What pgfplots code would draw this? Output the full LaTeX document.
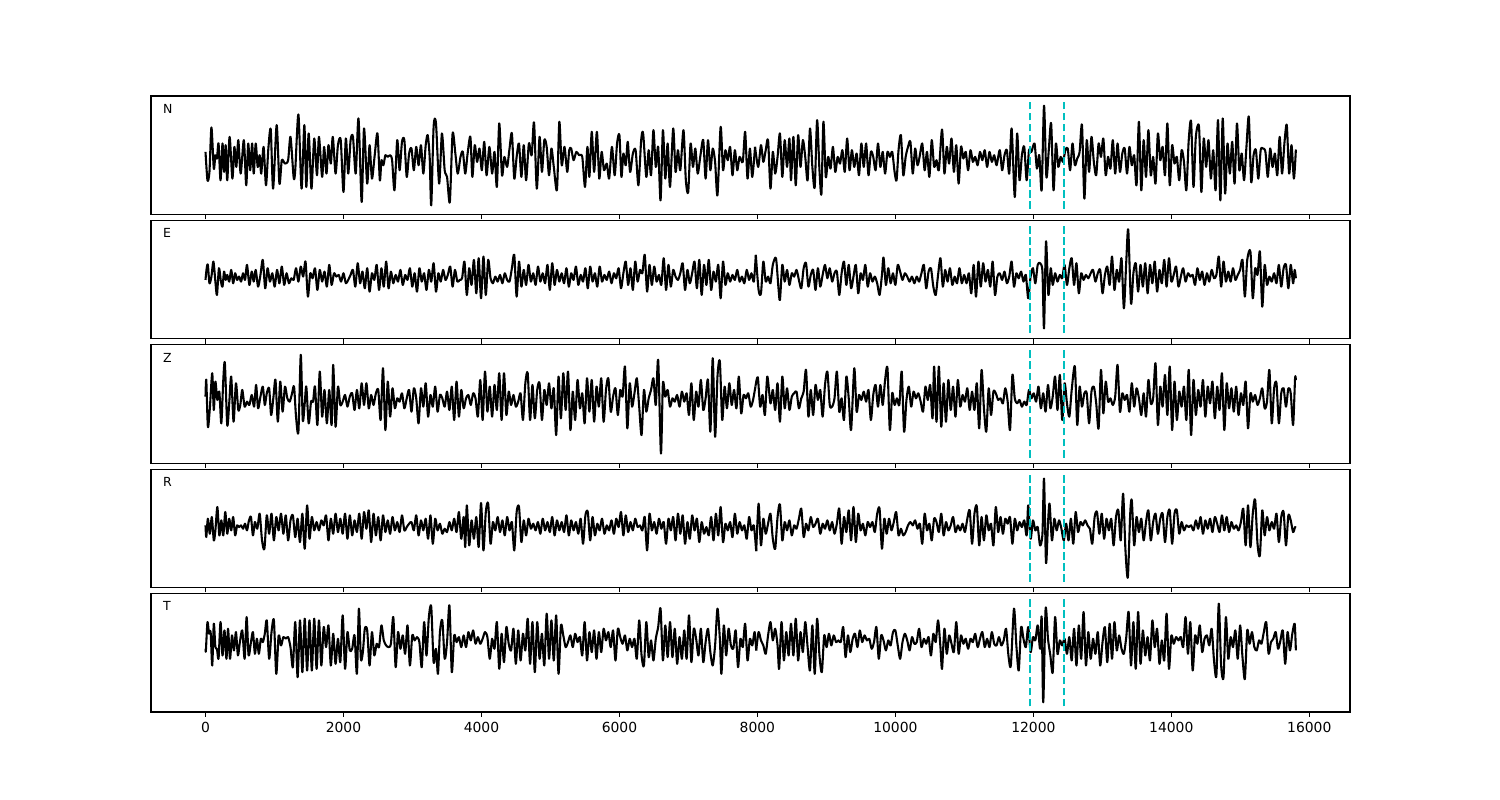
\documentclass[border=0pt]{standalone}
\usepackage{fontspec}
\setmainfont{DejaVu Sans}
\usepackage{pgfplots}
\pgfplotsset{compat=1.18}
\definecolor{cyanc}{rgb}{0,0.75,0.75}
\pgfplotsset{
  panel/.style={
    anchor=south west, scale only axis, width=863.28pt, height=85.25pt,
    xmin=-790, xmax=16590, ymin=-177, ymax=177,
    ytick=\empty, xtick={0,2000,4000,6000,8000,10000,12000,14000,16000},
    xtick pos=lower, tick align=outside,
    major tick length=3.5pt, every tick/.style={black, line width=0.8pt},
    axis line style={line width=0.8pt},
    xticklabel style={font=\fontsize{10}{12}\selectfont},
    /pgf/number format/assume math mode=true,
    /pgf/number format/set thousands separator={},
    scaled x ticks=false, clip=true,
  },
  sig/.style={black, line width=1.5pt, line join=round, no markers, smooth, tension=0.45},
  cut/.style={cyanc, line width=1.5pt, dash pattern=on 5.55pt off 2.4pt, no markers},
}
\tikzset{lab/.style={anchor=base west, inner sep=0pt, font=\fontsize{9}{10.8}\selectfont}}
\begin{document}
\begin{tikzpicture}
\path[use as bounding box] (0pt,0pt) rectangle (1080pt,576pt);
% ---------------- N
\begin{axis}[panel, at={(108.72pt,421.63pt)}, xticklabels={}]
\addplot[sig] table[row sep=\\, header=false, x expr=\thisrowno{0}*5.7307-945.6, y expr=195-\thisrowno{1}]{
165 185\\170 270\\175 245\\180 112\\186 235\\190 195\\194 205\\198 160\\203 270\\208 160\\212 245\\216 165\\220 270\\226 140\\233 265\\238 170\\243 230\\248 150\\254 250\\262 150\\268 285\\273 160\\278 240\\283 160\\287 250\\292 160\\297 230\\302 195\\306 250\\312 170\\318 285\\324 175\\330 118\\336 295\\345 105\\352 280\\358 210\\366 220\\374 210\\380 140\\388 262\\392 240\\400 73\\408 295\\415 105\\420 290\\426 130\\433 295\\440 145\\447 255\\452 140\\460 260\\465 170\\471 250\\476 165\\482 220\\487 140\\494 250\\500 165\\507 150\\514 305\\520 145\\526 250\\532 150\\538 140\\545 250\\552 85\\560 335\\566 115\\574 280\\580 165\\586 265\\593 195\\600 130\\606 270\\610 210\\615 225\\620 195\\626 200\\632 195\\637 210\\643 300\\650 150\\656 240\\662 155\\668 150\\674 260\\680 190\\686 175\\692 240\\698 170\\704 225\\710 165\\716 250\\722 165\\727 135\\732 200\\736 345\\742 110\\748 100\\756 280\\763 130\\770 240\\776 260\\783 335\\790 130\\797 190\\803 250\\810 200\\816 185\\822 250\\828 190\\835 140\\840 260\\846 165\\852 215\\858 175\\864 240\\870 155\\876 255\\883 170\\890 250\\896 185\\902 290\\908 100\\915 255\\921 200\\928 230\\934 175\\940 130\\946 265\\952 200\\958 160\\964 260\\970 165\\976 270\\983 160\\990 195\\996 97\\1003 295\\1010 140\\1016 245\\1022 150\\1028 170\\1034 255\\1040 175\\1046 230\\1054 298\\1060 95\\1066 225\\1073 170\\1080 245\\1085 180\\1090 175\\1096 210\\1103 185\\1110 195\\1118 200\\1125 290\\1131 170\\1136 260\\1142 125\\1148 245\\1155 125\\1161 265\\1167 185\\1173 240\\1180 220\\1186 265\\1193 170\\1200 255\\1206 160\\1212 135\\1217 260\\1222 190\\1228 225\\1233 155\\1239 245\\1246 190\\1253 180\\1260 285\\1267 150\\1272 130\\1280 260\\1286 180\\1292 255\\1298 120\\1304 230\\1310 170\\1316 330\\1322 120\\1328 265\\1334 160\\1340 290\\1348 115\\1354 245\\1360 180\\1366 240\\1374 120\\1380 270\\1386 305\\1392 160\\1398 230\\1404 175\\1410 250\\1417 195\\1424 150\\1430 265\\1436 150\\1442 240\\1448 175\\1454 215\\1460 315\\1468 110\\1474 240\\1480 180\\1486 210\\1492 170\\1498 255\\1504 180\\1510 240\\1516 200\\1524 215\\1530 125\\1536 265\\1542 175\\1548 260\\1555 170\\
};
\addplot[sig] table[row sep=\\, header=false, x expr=\thisrowno{0}*5.7307+7753.6, y expr=195-\thisrowno{1}]{
37 170\\45 230\\52 165\\58 215\\64 180\\70 150\\76 295\\82 185\\88 250\\94 200\\100 130\\106 260\\112 150\\118 230\\124 145\\128 270\\134 140\\140 285\\146 135\\152 230\\158 150\\164 200\\170 270\\176 115\\182 230\\188 290\\194 90\\200 240\\205 310\\210 95\\216 260\\222 200\\228 235\\234 170\\240 245\\246 200\\252 220\\258 180\\264 245\\270 145\\276 240\\282 180\\288 230\\294 190\\300 255\\306 160\\312 230\\318 160\\324 255\\330 185\\336 200\\342 240\\348 160\\354 230\\360 185\\366 250\\372 185\\378 200\\384 185\\390 245\\395 270\\400 180\\406 135\\412 255\\418 200\\424 170\\430 155\\436 250\\442 175\\448 225\\454 195\\460 160\\466 240\\472 185\\478 260\\484 150\\490 230\\496 210\\502 240\\510 118\\516 250\\522 170\\528 220\\534 145\\540 245\\546 165\\552 280\\558 170\\564 205\\570 185\\576 240\\582 180\\588 215\\594 200\\600 225\\606 185\\612 210\\618 180\\624 230\\630 185\\636 215\\642 195\\648 225\\656 180\\662 240\\668 195\\674 180\\680 250\\686 115\\694 320\\700 130\\706 270\\712 195\\718 170\\724 270\\730 180\\736 185\\744 160\\750 235\\756 195\\762 300\\768 47\\774 260\\780 180\\786 100\\792 300\\798 160\\804 230\\810 200\\816 215\\822 180\\828 175\\834 240\\840 160\\846 225\\852 205\\858 185\\864 105\\870 325\\876 150\\882 245\\888 140\\894 215\\900 255\\906 160\\912 200\\918 145\\924 255\\930 200\\936 235\\942 150\\948 250\\954 160\\960 245\\966 190\\972 175\\978 250\\984 170\\990 225\\996 195\\1002 285\\1008 95\\1014 300\\1020 150\\1026 260\\1032 120\\1038 255\\1044 200\\1050 280\\1056 130\\1062 210\\1068 170\\1074 255\\1080 100\\1086 285\\1092 165\\1098 220\\1104 200\\1110 270\\1116 180\\1122 215\\1128 300\\1134 150\\1140 95\\1146 290\\1152 140\\1160 110\\1166 305\\1172 145\\1178 230\\1184 150\\1190 265\\1196 180\\1202 300\\1208 90\\1214 330\\1220 85\\1226 310\\1232 160\\1238 250\\1244 155\\1250 280\\1256 100\\1262 240\\1268 190\\1274 270\\1280 170\\1286 80\\1292 275\\1298 195\\1304 180\\1310 265\\1316 180\\1322 175\\1328 185\\1334 260\\1340 175\\1346 230\\1352 190\\1358 255\\1364 140\\1370 250\\1376 160\\1382 105\\1388 250\\1394 165\\1400 265\\1405 178\\
};
\addplot[cut] coordinates {(11950,-160) (11950,160)};
\addplot[cut] coordinates {(12450,-160) (12450,160)};
\node[lab] at (rel axis cs:0.0098,0.854) {N};
\end{axis}
% ---------------- E
\begin{axis}[panel, at={(108.72pt,332.06pt)}, xticklabels={}]
\addplot[sig] table[row sep=\\, header=false, x expr=\thisrowno{0}*5.7307-945.6, y expr=194-\thisrowno{1}]{
165 195\\168 160\\171 150\\175 205\\180 185\\185 140\\190 200\\194 240\\199 160\\204 200\\208 215\\212 170\\216 195\\220 180\\225 200\\230 165\\235 205\\240 175\\245 195\\250 185\\255 200\\260 175\\265 195\\270 150\\276 210\\282 170\\287 200\\292 165\\298 215\\304 180\\310 135\\316 220\\322 160\\328 200\\334 175\\340 215\\346 165\\352 205\\358 155\\364 210\\370 175\\376 205\\382 190\\388 195\\394 160\\400 200\\406 155\\412 185\\418 140\\424 245\\430 175\\436 190\\442 160\\448 225\\454 165\\460 200\\466 170\\472 215\\478 150\\484 210\\490 175\\496 185\\502 180\\508 200\\514 175\\520 205\\526 195\\532 180\\538 165\\544 215\\550 145\\556 205\\562 170\\568 220\\574 160\\580 230\\586 175\\592 195\\598 150\\604 225\\610 160\\616 215\\622 140\\628 220\\634 170\\640 205\\646 180\\652 200\\658 165\\664 210\\670 180\\676 195\\682 160\\688 215\\694 175\\700 230\\706 160\\712 200\\718 175\\724 225\\730 165\\736 200\\742 145\\748 230\\754 175\\760 200\\766 165\\772 195\\778 180\\784 155\\790 215\\796 165\\802 200\\808 195\\814 190\\820 140\\826 240\\832 160\\838 210\\844 135\\850 235\\856 130\\862 250\\868 125\\874 240\\880 135\\886 190\\892 205\\898 185\\904 200\\910 180\\916 205\\922 175\\928 195\\934 200\\940 160\\946 120\\952 245\\958 140\\964 215\\970 165\\976 210\\982 150\\988 200\\994 175\\1000 210\\1006 155\\1012 200\\1018 175\\1024 205\\1030 150\\1036 225\\1042 145\\1048 210\\1054 165\\1060 200\\1066 175\\1072 205\\1078 160\\1084 215\\1090 175\\1096 195\\1102 155\\1108 210\\1114 180\\1120 200\\1126 160\\1132 220\\1138 155\\1144 200\\1150 175\\1156 215\\1162 155\\1168 200\\1174 180\\1180 195\\1186 170\\1192 205\\1198 175\\1204 190\\1210 160\\1216 220\\1222 175\\1228 140\\1234 210\\1240 160\\1246 225\\1252 140\\1258 200\\1264 165\\1270 175\\1276 120\\1282 230\\1288 150\\1294 210\\1300 155\\1306 200\\1312 180\\1318 210\\1324 130\\1330 225\\1336 150\\1342 215\\1348 165\\1354 185\\1360 195\\1366 175\\1372 145\\1378 225\\1384 165\\1390 205\\1396 175\\1402 140\\1408 220\\1414 135\\1420 240\\1426 150\\1432 210\\1438 135\\1444 225\\1450 170\\1456 200\\1462 150\\1468 250\\1474 140\\1480 210\\1486 175\\1492 200\\1498 180\\1504 195\\1510 165\\1516 200\\1522 185\\1528 205\\1534 165\\1540 195\\1546 175\\1552 200\\1557 120\\
};
\addplot[sig] table[row sep=\\, header=false, x expr=\thisrowno{0}*5.7307+7753.6, y expr=194-\thisrowno{1}]{
39 120\\46 225\\52 235\\58 140\\64 200\\70 185\\76 205\\82 150\\90 130\\96 215\\100 255\\106 150\\112 200\\118 165\\124 210\\130 175\\136 185\\142 165\\148 195\\154 220\\160 160\\166 145\\172 215\\178 180\\184 165\\190 225\\196 160\\202 215\\208 180\\214 150\\220 190\\226 160\\232 200\\238 175\\244 170\\250 240\\256 175\\262 140\\268 210\\274 150\\280 220\\286 185\\292 150\\298 235\\304 175\\310 195\\316 150\\322 215\\328 175\\334 200\\340 185\\346 205\\352 240\\358 180\\362 128\\368 210\\374 160\\380 205\\386 175\\392 210\\398 150\\404 170\\410 195\\416 175\\422 185\\428 200\\434 185\\440 205\\446 185\\452 200\\458 175\\464 150\\470 220\\476 170\\482 160\\488 215\\494 240\\500 180\\506 130\\512 215\\518 165\\524 200\\530 160\\536 210\\542 185\\548 205\\554 160\\560 205\\566 180\\572 205\\578 175\\584 235\\590 150\\596 245\\602 140\\608 215\\614 145\\620 200\\626 165\\632 215\\638 140\\644 240\\650 185\\656 175\\662 195\\668 170\\674 205\\680 185\\686 140\\692 215\\698 175\\704 190\\710 170\\716 200\\722 180\\728 250\\734 185\\740 160\\746 205\\752 150\\758 145\\764 170\\768 340\\773 80\\779 240\\785 160\\790 210\\796 175\\802 200\\808 180\\814 190\\820 150\\826 210\\832 160\\838 130\\844 210\\850 145\\856 235\\862 175\\868 195\\874 180\\880 190\\886 175\\892 165\\898 200\\904 175\\910 165\\916 235\\922 180\\928 155\\934 210\\940 125\\946 225\\952 165\\958 200\\964 130\\970 280\\976 140\\981 45\\988 265\\994 175\\1000 145\\1006 230\\1012 150\\1018 215\\1024 145\\1030 235\\1036 150\\1042 205\\1048 140\\1054 230\\1060 165\\1066 205\\1072 135\\1078 215\\1084 130\\1090 200\\1096 180\\1102 155\\1108 215\\1114 185\\1120 160\\1126 200\\1132 175\\1138 185\\1144 180\\1150 210\\1156 160\\1162 195\\1168 170\\1174 210\\1180 175\\1186 200\\1192 165\\1198 190\\1204 180\\1210 125\\1216 215\\1222 140\\1228 200\\1234 170\\1240 200\\1246 160\\1252 195\\1258 180\\1264 165\\1270 135\\1276 245\\1282 135\\1290 110\\1296 250\\1302 160\\1308 180\\1314 110\\1320 275\\1326 150\\1332 210\\1338 185\\1344 200\\1350 175\\1356 205\\1362 150\\1368 215\\1374 160\\1380 150\\1386 220\\1392 150\\1398 205\\1402 165\\1405 190\\
};
\addplot[cut] coordinates {(11950,-160) (11950,160)};
\addplot[cut] coordinates {(12450,-160) (12450,160)};
\node[lab] at (rel axis cs:0.0098,0.854) {E};
\end{axis}
% ---------------- Z
\begin{axis}[panel, at={(108.72pt,242.5pt)}, xticklabels={}]
\addplot[sig] table[row sep=\\, header=false, x expr=\thisrowno{0}*5.7307-945.6, y expr=192-\thisrowno{1}]{
165 170\\167 120\\171 260\\176 205\\182 100\\186 210\\190 125\\195 180\\200 155\\205 250\\210 120\\214 70\\220 255\\225 190\\230 110\\236 245\\242 130\\248 210\\253 195\\258 150\\264 200\\270 185\\276 195\\282 165\\288 200\\293 135\\298 205\\304 170\\310 140\\315 195\\320 160\\326 145\\331 225\\337 170\\342 120\\348 245\\354 125\\360 215\\366 140\\372 175\\378 185\\384 160\\389 140\\394 230\\400 275\\406 45\\411 240\\416 190\\420 140\\426 250\\432 185\\437 185\\442 140\\448 255\\454 95\\460 230\\466 150\\472 250\\478 150\\484 255\\488 75\\494 260\\500 140\\506 195\\512 185\\518 165\\524 200\\530 170\\536 160\\542 210\\548 150\\554 205\\560 130\\566 195\\572 130\\578 205\\584 165\\590 195\\596 160\\602 150\\608 240\\614 85\\620 270\\626 125\\632 230\\638 145\\644 205\\650 175\\656 185\\662 160\\668 205\\674 175\\680 150\\686 215\\692 145\\698 175\\704 250\\710 145\\716 200\\722 130\\728 230\\734 165\\740 200\\746 140\\752 215\\758 165\\764 175\\770 200\\776 155\\782 210\\788 140\\794 240\\800 125\\806 230\\812 150\\818 205\\824 175\\830 165\\836 195\\842 160\\848 175\\854 230\\860 120\\866 240\\872 95\\878 215\\884 140\\890 230\\896 135\\902 210\\908 100\\914 240\\920 100\\926 225\\932 155\\938 195\\944 165\\950 200\\956 185\\962 160\\968 240\\974 130\\980 100\\986 240\\992 135\\998 235\\1004 150\\1010 130\\1016 240\\1022 150\\1028 195\\1034 130\\1040 205\\1046 145\\1052 285\\1058 110\\1064 235\\1070 100\\1076 210\\1082 95\\1088 270\\1094 155\\1100 240\\1106 120\\1112 205\\1118 160\\1124 250\\1130 115\\1136 215\\1142 120\\1148 245\\1154 140\\1160 200\\1166 115\\1172 245\\1178 150\\1184 115\\1190 215\\1196 170\\1202 145\\1208 225\\1214 150\\1220 170\\1226 80\\1232 265\\1238 130\\1244 200\\1250 160\\1256 115\\1262 200\\1268 285\\1274 150\\1280 215\\1286 175\\1292 150\\1298 115\\1304 195\\1310 60\\1317 340\\1322 130\\1328 170\\1334 150\\1340 200\\1346 175\\1352 185\\1358 165\\1364 200\\1370 155\\1376 185\\1382 160\\1388 225\\1394 130\\1400 240\\1406 155\\1412 200\\1418 120\\1424 210\\1430 175\\1436 120\\1442 275\\1448 55\\1454 290\\1460 110\\1466 65\\1472 240\\1478 140\\1484 205\\1490 130\\1496 195\\1502 150\\1508 205\\1514 110\\1520 220\\1526 165\\1532 175\\1538 160\\1544 200\\1550 180\\1556 140\\
};
\addplot[sig] table[row sep=\\, header=false, x expr=\thisrowno{0}*5.7307+7753.6, y expr=192-\thisrowno{1}]{
38 140\\44 112\\50 200\\56 165\\62 225\\68 110\\76 190\\82 150\\88 210\\94 130\\100 245\\106 110\\112 205\\118 145\\124 210\\130 170\\136 160\\142 155\\148 205\\154 175\\160 155\\166 90\\172 230\\178 150\\184 225\\190 135\\196 180\\202 150\\208 230\\214 135\\220 95\\226 195\\232 200\\238 175\\244 95\\250 215\\256 175\\262 240\\268 110\\274 175\\280 270\\288 85\\294 215\\300 165\\306 180\\312 155\\318 185\\324 150\\330 240\\336 165\\342 135\\348 200\\354 135\\360 195\\366 120\\372 85\\378 270\\384 160\\390 195\\396 175\\402 195\\408 95\\414 275\\420 180\\426 140\\432 200\\438 155\\444 175\\450 160\\456 185\\462 215\\468 140\\474 180\\480 135\\486 235\\490 80\\496 245\\502 80\\508 260\\514 130\\520 245\\526 120\\532 210\\538 140\\544 230\\550 120\\556 200\\562 165\\568 185\\574 145\\580 210\\586 155\\592 210\\598 130\\604 265\\610 90\\616 205\\622 275\\628 145\\634 225\\640 155\\646 160\\652 180\\658 175\\664 190\\670 145\\676 185\\682 270\\688 105\\694 175\\700 190\\706 180\\712 200\\718 185\\724 195\\730 150\\736 175\\742 160\\748 185\\754 140\\760 205\\766 160\\772 215\\778 135\\784 205\\790 170\\796 110\\802 210\\808 105\\814 240\\820 130\\826 190\\832 230\\838 150\\846 80\\852 255\\858 140\\864 200\\870 160\\876 160\\882 250\\888 155\\894 140\\900 190\\906 265\\912 90\\918 220\\924 125\\930 185\\936 175\\942 195\\948 170\\954 75\\960 215\\966 160\\972 180\\978 165\\984 215\\990 130\\996 200\\1002 145\\1008 175\\1014 225\\1020 160\\1026 230\\1032 120\\1038 190\\1044 175\\1050 70\\1056 255\\1062 140\\1068 200\\1074 105\\1080 225\\1086 80\\1092 270\\1098 125\\1104 240\\1110 155\\1116 200\\1122 140\\1128 240\\1134 90\\1140 285\\1146 120\\1152 225\\1158 150\\1164 200\\1170 120\\1176 230\\1182 140\\1188 190\\1194 125\\1200 235\\1206 140\\1212 210\\1218 100\\1224 270\\1230 130\\1236 205\\1242 145\\1248 215\\1254 140\\1260 225\\1266 160\\1272 195\\1278 125\\1284 265\\1290 160\\1296 185\\1302 165\\1308 195\\1314 175\\1320 145\\1326 205\\1332 185\\1338 90\\1344 250\\1350 145\\1356 130\\1362 250\\1368 160\\1374 145\\1380 200\\1386 145\\1392 160\\1398 255\\1403 115\\1405 120\\
};
\addplot[cut] coordinates {(11950,-160) (11950,160)};
\addplot[cut] coordinates {(12450,-160) (12450,160)};
\node[lab] at (rel axis cs:0.0098,0.854) {Z};
\end{axis}
% ---------------- R
\begin{axis}[panel, at={(108.72pt,152.93pt)}, xticklabels={}]
\addplot[sig] table[row sep=\\, header=false, x expr=\thisrowno{0}*5.7307-945.6, y expr=194-\thisrowno{1}]{
165 185\\167 220\\171 165\\176 210\\181 160\\186 230\\190 200\\195 130\\200 215\\205 170\\210 215\\215 145\\220 210\\225 165\\230 200\\235 160\\240 215\\245 185\\250 190\\255 185\\260 195\\265 180\\270 200\\275 170\\280 160\\285 215\\290 175\\296 195\\302 150\\308 230\\314 255\\320 155\\326 210\\332 150\\338 230\\344 160\\350 200\\356 150\\362 210\\368 155\\374 230\\380 170\\386 155\\392 220\\398 165\\404 235\\410 150\\416 255\\422 125\\428 225\\434 160\\440 200\\446 175\\452 200\\458 170\\464 185\\470 155\\476 230\\482 165\\488 210\\494 150\\500 205\\506 165\\512 210\\518 150\\524 225\\530 155\\536 215\\542 170\\548 205\\554 150\\560 225\\566 145\\572 195\\578 140\\584 235\\590 150\\596 215\\602 160\\608 230\\614 155\\620 205\\626 170\\632 210\\638 160\\644 200\\650 175\\656 205\\662 155\\668 200\\674 190\\680 180\\686 175\\692 200\\698 155\\704 215\\710 170\\716 200\\722 165\\728 225\\734 155\\740 240\\746 165\\752 200\\758 180\\764 210\\770 195\\776 205\\782 175\\788 200\\794 165\\800 205\\806 145\\812 225\\818 160\\822 250\\826 125\\832 245\\838 170\\844 225\\850 160\\856 250\\862 118\\868 260\\874 145\\880 120\\886 240\\892 175\\898 200\\904 160\\910 205\\916 170\\922 215\\928 160\\934 200\\940 175\\946 260\\952 145\\958 130\\964 235\\970 170\\976 215\\982 165\\988 195\\994 180\\1000 200\\1006 175\\1012 210\\1018 165\\1024 200\\1030 175\\1036 205\\1042 160\\1048 215\\1054 170\\1060 200\\1066 175\\1072 205\\1078 155\\1084 215\\1090 170\\1096 200\\1102 175\\1108 210\\1114 165\\1120 240\\1126 155\\1132 145\\1138 230\\1144 160\\1150 215\\1156 180\\1162 200\\1168 165\\1174 210\\1180 185\\1186 200\\1192 170\\1198 210\\1204 165\\1210 190\\1216 145\\1222 215\\1228 155\\1234 205\\1240 175\\1246 200\\1252 165\\1258 190\\1264 185\\1270 200\\1276 160\\1282 260\\1288 150\\1294 200\\1300 175\\1306 210\\1312 165\\1318 195\\1324 175\\1330 240\\1336 165\\1342 200\\1348 160\\1354 230\\1360 150\\1366 210\\1372 155\\1378 240\\1384 175\\1390 225\\1396 155\\1402 200\\1408 165\\1414 235\\1420 175\\1426 210\\1432 190\\1438 215\\1444 160\\1450 230\\1456 150\\1462 215\\1468 130\\1474 235\\1480 180\\1486 200\\1492 175\\1498 220\\1504 150\\1510 210\\1516 175\\1522 200\\1528 185\\1534 225\\1540 160\\1546 200\\1552 185\\1558 262\\
};
\addplot[sig] table[row sep=\\, header=false, x expr=\thisrowno{0}*5.7307+7753.6, y expr=194-\thisrowno{1}]{
40 262\\46 120\\52 245\\58 165\\64 210\\70 180\\76 150\\82 225\\88 255\\94 160\\100 122\\106 230\\112 175\\118 200\\124 170\\130 215\\136 185\\142 195\\148 165\\154 135\\160 220\\166 180\\172 200\\178 160\\184 190\\190 180\\196 165\\202 210\\208 180\\214 195\\220 170\\226 200\\232 175\\238 210\\244 180\\250 135\\256 240\\262 160\\268 205\\274 140\\280 230\\286 130\\292 235\\298 150\\304 200\\310 180\\316 215\\322 175\\328 190\\334 175\\340 205\\346 150\\352 135\\358 255\\364 165\\370 210\\376 165\\382 200\\388 175\\394 145\\400 215\\406 195\\412 215\\418 205\\424 185\\430 175\\436 185\\442 170\\448 195\\454 180\\460 240\\466 150\\472 200\\478 180\\484 230\\490 165\\496 175\\502 205\\508 150\\514 215\\520 175\\526 200\\532 185\\538 160\\544 205\\550 185\\556 200\\562 180\\568 205\\574 165\\580 140\\586 240\\592 150\\598 128\\604 245\\610 160\\616 230\\622 155\\628 200\\634 180\\640 245\\646 130\\652 205\\658 160\\664 210\\670 165\\676 180\\682 160\\688 240\\694 165\\700 200\\706 175\\712 190\\718 170\\724 215\\728 125\\734 225\\740 170\\746 200\\752 190\\758 245\\764 210\\768 45\\773 297\\778 180\\782 120\\788 230\\794 165\\800 200\\806 170\\812 195\\818 230\\824 180\\830 230\\836 165\\842 240\\848 145\\854 205\\860 175\\866 185\\872 170\\878 185\\884 195\\890 240\\896 160\\902 145\\908 210\\914 150\\920 225\\926 165\\932 200\\938 165\\944 245\\950 160\\956 140\\962 230\\968 90\\974 260\\980 340\\986 150\\990 110\\996 245\\1002 160\\1008 205\\1014 165\\1020 230\\1026 175\\1032 140\\1038 230\\1044 175\\1050 150\\1056 210\\1062 165\\1068 150\\1074 235\\1080 160\\1086 140\\1092 240\\1098 150\\1104 140\\1110 210\\1116 175\\1122 200\\1128 185\\1134 190\\1140 185\\1146 200\\1152 170\\1158 195\\1164 160\\1170 210\\1176 170\\1182 195\\1188 165\\1194 205\\1200 160\\1206 180\\1212 205\\1218 155\\1224 200\\1230 160\\1236 205\\1242 175\\1248 195\\1254 185\\1260 200\\1266 175\\1272 135\\1278 245\\1284 125\\1290 250\\1296 150\\1302 108\\1308 240\\1314 275\\1320 140\\1326 215\\1332 160\\1338 200\\1344 175\\1350 195\\1356 150\\1362 235\\1368 160\\1374 145\\1380 245\\1386 155\\1392 170\\1398 205\\1403 190\\1405 192\\
};
\addplot[cut] coordinates {(11950,-160) (11950,160)};
\addplot[cut] coordinates {(12450,-160) (12450,160)};
\node[lab] at (rel axis cs:0.0098,0.854) {R};
\end{axis}
% ---------------- T
\begin{axis}[panel, at={(108.72pt,63.36pt)}]
\addplot[sig] table[row sep=\\, header=false, x expr=\thisrowno{0}*5.7307-945.6, y expr=192-\thisrowno{1}]{
165 182\\166 185\\170 100\\174 135\\178 130\\182 230\\186 105\\190 175\\194 180\\198 210\\203 100\\208 200\\213 125\\218 210\\222 120\\227 210\\232 140\\237 185\\242 130\\247 200\\252 160\\258 125\\264 210\\269 85\\274 200\\280 160\\285 130\\290 195\\295 150\\300 195\\305 150\\310 160\\315 135\\320 95\\326 210\\332 130\\338 95\\344 255\\350 140\\356 170\\362 145\\368 150\\374 145\\380 175\\386 235\\392 100\\398 265\\404 95\\410 250\\416 90\\422 245\\428 95\\434 245\\440 90\\446 240\\452 95\\458 230\\464 115\\470 175\\476 110\\482 230\\488 135\\494 225\\500 150\\506 220\\512 80\\518 240\\524 130\\530 185\\536 180\\542 140\\548 255\\553 60\\558 210\\563 190\\568 120\\574 125\\580 230\\586 130\\592 200\\598 165\\604 175\\610 110\\616 155\\622 170\\628 175\\634 165\\640 85\\646 235\\652 130\\658 180\\664 140\\670 195\\676 110\\682 230\\688 140\\694 155\\700 145\\706 160\\712 235\\718 100\\724 200\\730 85\\736 55\\742 220\\748 180\\753 255\\758 130\\764 95\\770 210\\776 160\\782 50\\788 250\\794 140\\800 160\\806 145\\812 175\\818 140\\824 175\\830 130\\836 155\\842 125\\848 165\\854 145\\860 165\\866 150\\872 130\\878 145\\884 210\\890 150\\896 180\\902 100\\908 240\\914 135\\920 220\\926 115\\932 165\\938 185\\944 120\\950 225\\956 125\\962 215\\968 135\\974 185\\980 90\\986 225\\992 100\\998 250\\1004 100\\1010 210\\1016 135\\1022 230\\1028 75\\1034 210\\1040 95\\1046 215\\1052 80\\1058 255\\1064 110\\1070 140\\1076 175\\1082 160\\1088 140\\1094 175\\1100 135\\1106 160\\1112 145\\1118 200\\1124 100\\1130 215\\1136 130\\1142 190\\1148 125\\1154 210\\1160 130\\1166 190\\1172 120\\1178 155\\1184 130\\1190 175\\1196 125\\1202 215\\1208 120\\1214 145\\1220 165\\1226 140\\1232 185\\1238 150\\1244 175\\1250 150\\1256 210\\1262 95\\1268 200\\1274 230\\1280 100\\1286 205\\1292 155\\1298 215\\1304 150\\1310 115\\1316 60\\1322 215\\1328 110\\1334 205\\1340 100\\1346 205\\1352 120\\1358 225\\1364 145\\1370 210\\1376 125\\1382 210\\1388 80\\1394 220\\1400 120\\1406 150\\1412 200\\1418 120\\1424 220\\1430 160\\1436 120\\1442 190\\1448 230\\1454 170\\1460 60\\1466 150\\1470 255\\1476 110\\1482 200\\1488 120\\1494 170\\1500 180\\1506 125\\1512 235\\1518 150\\1524 175\\1530 105\\1536 215\\1542 150\\1548 170\\1554 130\\1558 185\\
};
\addplot[sig] table[row sep=\\, header=false, x expr=\thisrowno{0}*5.7307+7753.6, y expr=192-\thisrowno{1}]{
40 185\\46 130\\52 155\\58 170\\64 195\\70 140\\76 100\\82 155\\88 120\\94 170\\98 240\\104 100\\110 215\\116 130\\122 200\\128 105\\134 200\\140 90\\146 215\\152 130\\158 190\\164 100\\170 175\\176 245\\182 110\\188 255\\194 90\\200 200\\206 250\\212 140\\218 175\\224 135\\230 170\\236 140\\242 160\\248 155\\254 160\\260 115\\266 205\\272 140\\278 190\\284 150\\290 135\\296 175\\302 125\\308 160\\314 140\\320 155\\326 150\\332 180\\338 160\\344 115\\350 210\\356 140\\362 155\\368 185\\374 155\\380 170\\386 130\\392 125\\398 170\\404 210\\410 160\\416 135\\422 155\\428 185\\434 145\\440 165\\446 160\\452 120\\458 175\\464 150\\470 165\\476 145\\482 200\\488 135\\494 160\\500 95\\506 175\\510 240\\516 120\\522 195\\528 140\\534 165\\540 190\\546 100\\552 195\\558 140\\564 165\\570 150\\576 180\\582 150\\588 160\\594 135\\600 175\\606 150\\612 130\\618 175\\624 150\\630 175\\636 130\\642 165\\648 170\\654 145\\660 170\\666 155\\672 120\\678 200\\684 230\\692 60\\698 170\\704 245\\710 115\\716 150\\722 175\\728 115\\734 190\\740 145\\746 155\\752 110\\758 180\\762 85\\766 340\\772 60\\778 150\\784 200\\790 250\\796 85\\802 195\\808 155\\814 170\\820 150\\826 195\\832 145\\838 215\\844 120\\850 230\\856 110\\862 210\\868 70\\874 230\\880 130\\886 210\\892 150\\898 195\\904 130\\910 230\\916 160\\922 115\\928 220\\934 105\\940 210\\946 100\\952 185\\958 140\\964 180\\970 195\\976 145\\982 70\\988 230\\994 100\\1000 240\\1006 70\\1012 225\\1018 125\\1024 200\\1030 145\\1036 215\\1042 95\\1048 175\\1054 120\\1060 225\\1066 155\\1072 215\\1078 75\\1084 240\\1090 140\\1096 165\\1102 145\\1108 155\\1114 145\\1120 175\\1126 85\\1132 195\\1138 100\\1144 245\\1150 140\\1156 165\\1162 110\\1168 190\\1174 150\\1180 140\\1186 170\\1192 120\\1198 215\\1204 260\\1210 45\\1216 230\\1222 265\\1228 85\\1234 210\\1240 145\\1246 175\\1252 125\\1258 210\\1264 110\\1270 205\\1276 270\\1282 125\\1288 165\\1294 130\\1300 175\\1306 185\\1312 155\\1318 165\\1324 130\\1330 100\\1336 195\\1342 160\\1348 150\\1354 130\\1360 180\\1366 155\\1372 125\\1378 225\\1384 130\\1390 185\\1396 135\\1402 105\\1405 185\\
};
\addplot[cut] coordinates {(11950,-160) (11950,160)};
\addplot[cut] coordinates {(12450,-160) (12450,160)};
\node[lab] at (rel axis cs:0.0098,0.854) {T};
\end{axis}
\end{tikzpicture}
\end{document}
